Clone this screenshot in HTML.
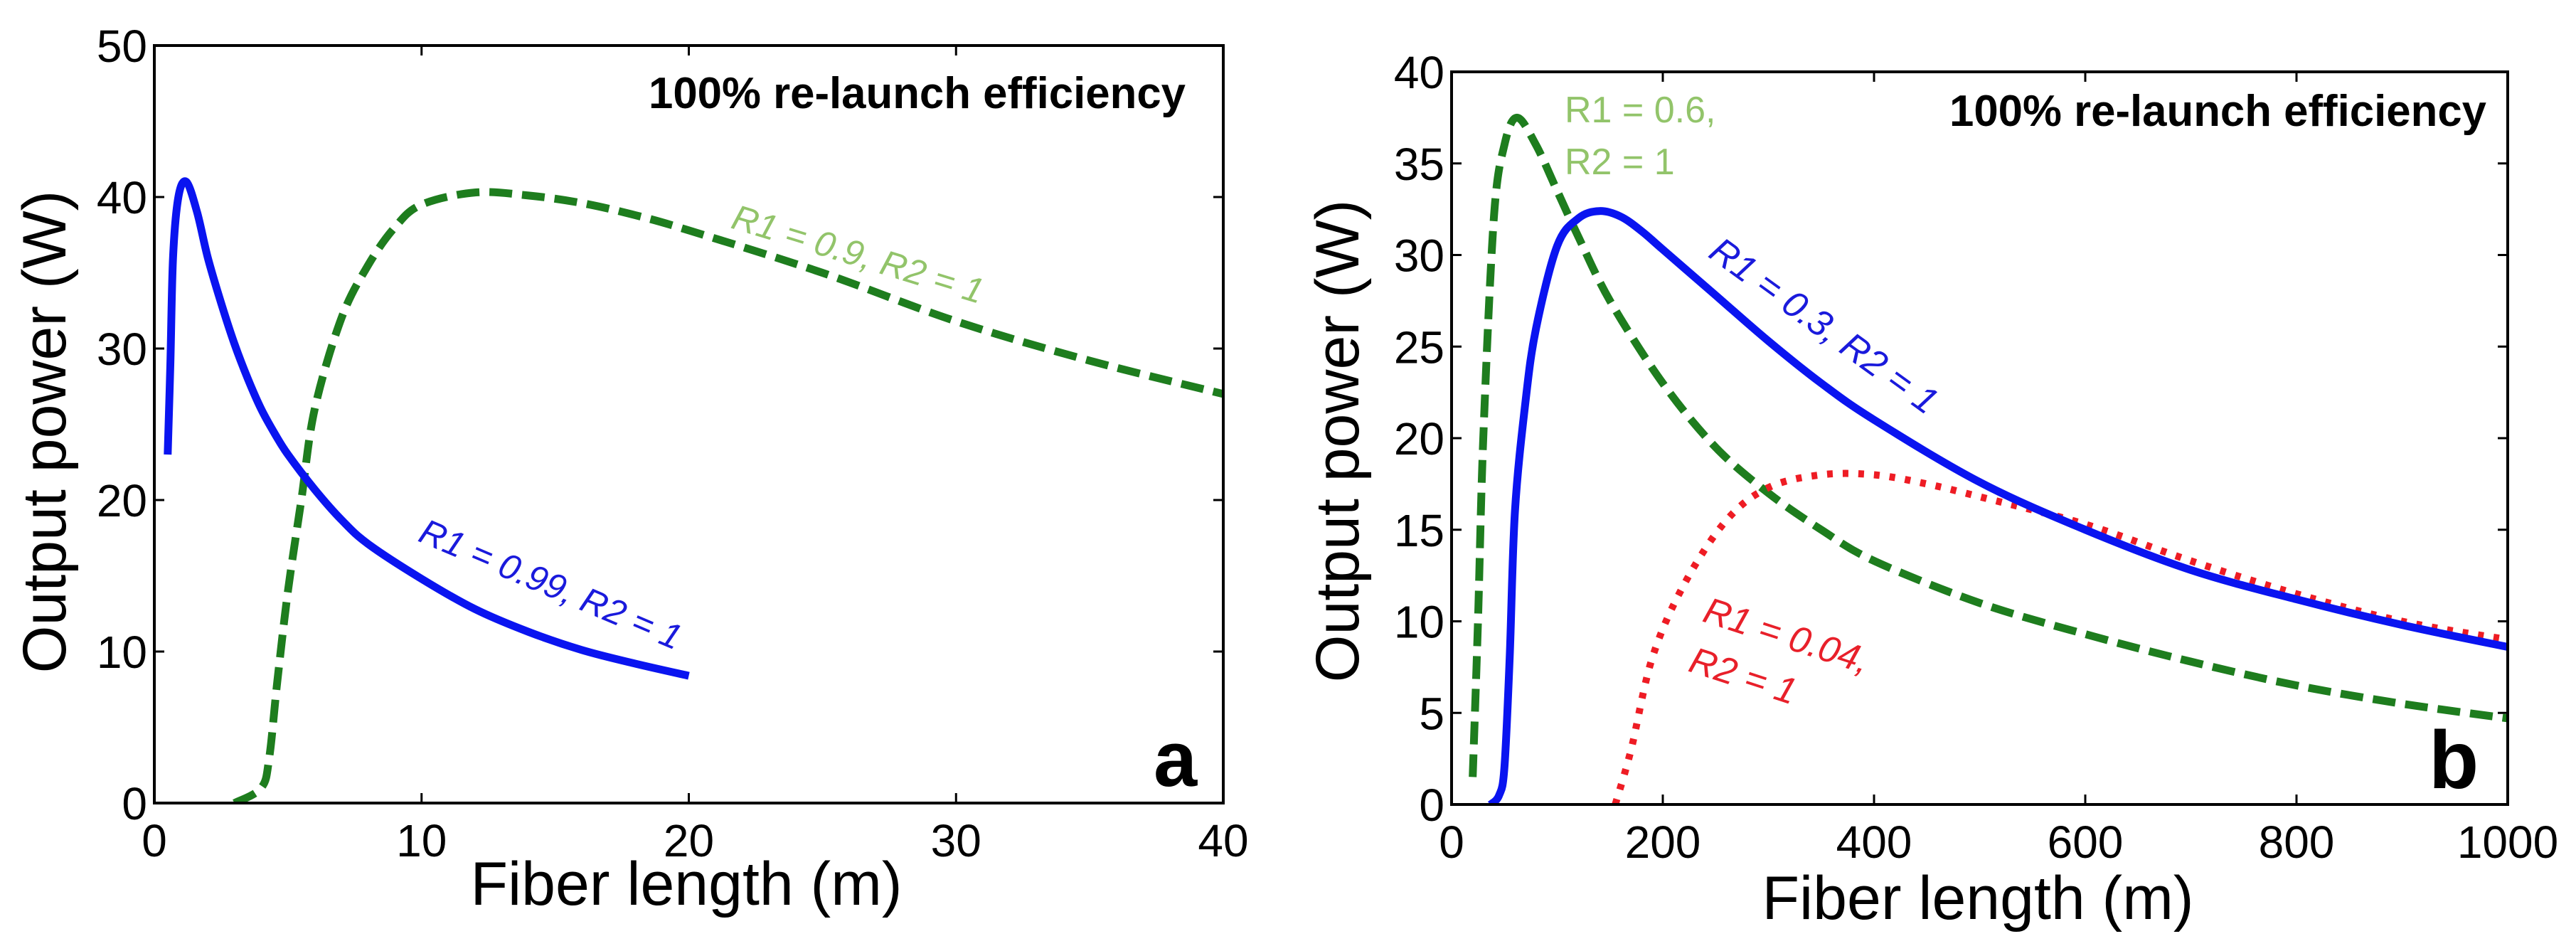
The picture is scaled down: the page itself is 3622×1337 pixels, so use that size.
<!DOCTYPE html>
<html><head><meta charset="utf-8"><style>
html,body{margin:0;padding:0;background:#fff}
svg{display:block}
text{font-family:"Liberation Sans",sans-serif}
</style></head><body>
<svg id="fig" width="3622" height="1337" viewBox="0 0 3622 1337" xmlns="http://www.w3.org/2000/svg">
<rect width="3622" height="1337" fill="#fff"/>
<g id="pa"></g>
<g id="pb"></g>
</svg>
<script>
// Panel a data
const aXTicks = [0, 10, 20, 30, 40];
const aYTicks = [0, 10, 20, 30, 40, 50];
const aBlueX = [0.5,0.6,0.7,0.9,1.2,1.6,2,2.5,3,3.5,4,4.5,5,6,7,8,10,12,14,16,18,20];
const aBlueY = [23,29,36,40,41,39,36,33,30.3,28,26,24.4,23,20.7,18.7,17.1,14.8,12.8,11.3,10.1,9.2,8.4];
const aGreenX = [3,4,4.3,4.6,5,5.5,6,7,8,9,10,12,14,16,18,20,25,30,35,40];
const aGreenY = [0,1,3,8,14,20,26,32,35.5,38,39.5,40.3,40.1,39.6,38.8,37.8,35,31.8,29.2,27];
// Panel b data
const bXTicks = [0, 200, 400, 600, 800, 1000];
const bYTicks = [0, 5, 10, 15, 20, 25, 30, 35, 40];
const bGreenX = [20,25,30,40,50,62,80,100,120,150,200,250,300,350,400,500,600,700,800,900,1000];
const bGreenY = [1.5,10,20,32,36,37.5,36,33.5,31,27.5,23,19.5,17,15,13.3,11,9.3,7.8,6.5,5.5,4.7];
const bBlueX = [37,45,50,55,60,70,80,100,120,140,160,180,200,250,300,350,400,500,600,700,800,900,1000];
const bBlueY = [0,0.5,2,8,16,22,26,30.5,32,32.4,32.1,31.3,30.3,27.8,25.3,23,21,17.6,15,12.8,11.2,9.8,8.6];
const bRedX = [155,170,190,220,260,300,350,400,450,500,600,700,800,900,1000];
const bRedY = [0,3,8,12,15.5,17.3,18,18,17.5,16.8,15.3,13.3,11.5,10,9];

const NS = "http://www.w3.org/2000/svg";
function mk(parent, tag, attrs, txt){
  const e = document.createElementNS(NS, tag);
  for (const k in attrs) e.setAttribute(k, attrs[k]);
  if (txt !== undefined) e.textContent = txt;
  parent.appendChild(e);
  return e;
}
function smoothPath(pts){
  let d = "M" + pts[0][0] + "," + pts[0][1];
  for (let i = 0; i < pts.length - 1; i++){
    const p0 = pts[Math.max(i-1,0)], p1 = pts[i], p2 = pts[i+1], p3 = pts[Math.min(i+2, pts.length-1)];
    const c1x = p1[0] + (p2[0]-p0[0])/6, c1y = p1[1] + (p2[1]-p0[1])/6;
    const c2x = p2[0] - (p3[0]-p1[0])/6, c2y = p2[1] - (p3[1]-p1[1])/6;
    d += " C" + c1x + "," + c1y + " " + c2x + "," + c2y + " " + p2[0] + "," + p2[1];
  }
  return d;
}
function panel(g, box, xmax, ymax, xt, yt){
  const sx = v => box.l + v / xmax * (box.r - box.l);
  const sy = v => box.b - v / ymax * (box.b - box.t);
  const clip = mk(g, "clipPath", {id: g.id + "clip"});
  mk(clip, "rect", {x: box.l, y: box.t, width: box.r - box.l, height: box.b - box.t});
  xt.forEach(v => {
    const x = sx(v);
    const t1 = mk(g, "line", {x1: x, y1: box.b, x2: x, y2: box.b - 14, stroke: "#000", "stroke-width": 3});
    
    
    const t2 = mk(g, "line", {x1: x, y1: box.t, x2: x, y2: box.t + 14, stroke: "#000", "stroke-width": 3});
    
    
    const lb = mk(g, "text", {x: x, y: box.b + 75, "font-size": 64, "text-anchor": "middle", fill: "#000"}, String(v));
    
    
  });
  yt.forEach(v => {
    const y = sy(v);
    const t1 = mk(g, "line", {x1: box.l, y1: y, x2: box.l + 14, y2: y, stroke: "#000", "stroke-width": 3});
    
    
    const t2 = mk(g, "line", {x1: box.r, y1: y, x2: box.r - 14, y2: y, stroke: "#000", "stroke-width": 3});
    
    
    const lb = mk(g, "text", {x: box.l - 10, y: y + 23, "font-size": 64, "text-anchor": "end", fill: "#000"}, String(v));
    
    
  });
  return {sx, sy};
}
function series(g, s, xs, ys, color, dash, name, w){
  const pts = xs.map((x, i) => [s.sx(x), s.sy(ys[i])]);
  const p = mk(g, "path", {d: smoothPath(pts), fill: "none", stroke: color, "stroke-width": w, "clip-path": "url(#" + g.id + "clip)", "stroke-linejoin": "round"});
  if (dash) p.setAttribute("stroke-dasharray", dash);
  
  
}
function frame(g, box){
  const f = mk(g, "rect", {x: box.l, y: box.t, width: box.r - box.l, height: box.b - box.t, fill: "none", stroke: "#000", "stroke-width": 4});
  
  
}
function label(g, x, y, rot, txt, color, size, name, opts){
  const a = Object.assign({x: x, y: y, "font-size": size, fill: color, transform: "rotate(" + rot + " " + x + " " + y + ")"}, opts || {});
  const t = mk(g, "text", a, txt);
  
  
  return t;
}

// Panel a
const ga = document.getElementById("pa");
const boxA = {l: 217, r: 1720, t: 64, b: 1129};
const sa = panel(ga, boxA, 40, 50, aXTicks, aYTicks);
series(ga, sa, aGreenX, aGreenY, "#1e7d1e", "32 14", "series-r1-0.9", 11);
series(ga, sa, aBlueX, aBlueY, "#0a14f0", null, "series-r1-0.99", 11);
frame(ga, boxA);
label(ga, 912, 152, 0, "100% re-launch efficiency", "#000", 62, "annotation-relaunch", {"font-weight": "bold", textLength: 755, lengthAdjust: "spacingAndGlyphs"});
label(ga, 1622, 1105, 0, "a", "#000", 110, "panel-label-a", {"font-weight": "bold"});
label(ga, 586, 760, 23, "R1 = 0.99, R2 = 1", "#1a1adc", 50, "label-r1-0.99", {"font-style": "italic"});
label(ga, 1026, 320, 17, "R1 = 0.9, R2 = 1", "#92c46a", 50, "label-r1-0.9", {"font-style": "italic"});
label(ga, 965, 1272, 0, "Fiber length (m)", "#000", 86, "x-axis-title", {"text-anchor": "middle"});
label(ga, 92, 607, -90, "Output power (W)", "#000", 86, "y-axis-title", {"text-anchor": "middle"});

// Panel b
const gb = document.getElementById("pb");
const boxB = {l: 2041, r: 3526, t: 101, b: 1131};
const sb = panel(gb, boxB, 1000, 40, bXTicks, bYTicks);
series(gb, sb, bGreenX, bGreenY, "#1e7d1e", "32 14", "series-r1-0.6", 11);
series(gb, sb, bRedX, bRedY, "#ee1c24", "8 14", "series-r1-0.04", 10);
series(gb, sb, bBlueX, bBlueY, "#0a14f0", null, "series-r1-0.3", 11);
frame(gb, boxB);
label(gb, 2741, 177, 0, "100% re-launch efficiency", "#000", 62, "annotation-relaunch", {"font-weight": "bold", textLength: 755, lengthAdjust: "spacingAndGlyphs"});
label(gb, 3415, 1108, 0, "b", "#000", 115, "panel-label-b", {"font-weight": "bold"});
label(gb, 2200, 172, 0, "R1 = 0.6,", "#92c46a", 52, "label-r1-0.6");
label(gb, 2200, 245, 0, "R2 = 1", "#92c46a", 52, "label-r2-0.6");
label(gb, 2400, 360, 36, "R1 = 0.3, R2 = 1", "#1a1adc", 52, "label-r1-0.3", {"font-style": "italic"});
label(gb, 2392, 873, 18, "R1 = 0.04,", "#e8202a", 52, "label-r1-0.04", {"font-style": "italic"});
label(gb, 2372, 943, 18, "R2 = 1", "#e8202a", 52, "label-r2-0.04", {"font-style": "italic"});
label(gb, 2781, 1292, 0, "Fiber length (m)", "#000", 86, "x-axis-title", {"text-anchor": "middle"});
label(gb, 1910, 620, -90, "Output power (W)", "#000", 86, "y-axis-title", {"text-anchor": "middle"});
</script>
</body></html>
